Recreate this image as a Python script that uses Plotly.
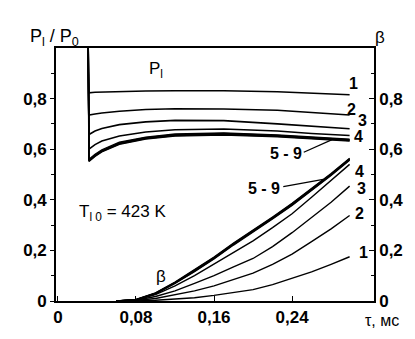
import plotly.graph_objects as go

# Relative pressure P_l / P_0 versus time tau (ms), curves 1-9
TAU_P = [0.031, 0.0318, 0.038, 0.045, 0.063, 0.09, 0.12, 0.17, 0.225, 0.26, 0.299]
P1 = [1.0, 0.823, 0.825, 0.826, 0.828, 0.830, 0.831, 0.831, 0.827, 0.822, 0.815]
P2 = [1.0, 0.735, 0.739, 0.743, 0.750, 0.757, 0.760, 0.759, 0.754, 0.745, 0.735]
P3 = [1.0, 0.658, 0.672, 0.682, 0.697, 0.708, 0.714, 0.713, 0.700, 0.690, 0.681]
P4 = [1.0, 0.600, 0.618, 0.632, 0.652, 0.668, 0.677, 0.680, 0.672, 0.662, 0.654]
P5 = [1.0, 0.560, 0.580, 0.598, 0.628, 0.648, 0.660, 0.664, 0.657, 0.648, 0.640]
P6 = [1.0, 0.557, 0.577, 0.595, 0.625, 0.646, 0.658, 0.662, 0.655, 0.646, 0.638]
P7 = [1.0, 0.555, 0.575, 0.593, 0.623, 0.644, 0.656, 0.660, 0.653, 0.644, 0.636]
P8 = [1.0, 0.553, 0.573, 0.591, 0.621, 0.642, 0.654, 0.658, 0.651, 0.642, 0.634]
P9 = [1.0, 0.551, 0.571, 0.589, 0.619, 0.640, 0.652, 0.656, 0.649, 0.640, 0.632]

# Burned fraction beta versus tau, curves 1-9
TAU_B = [0.06, 0.08, 0.10, 0.12, 0.14, 0.16, 0.18, 0.20, 0.22, 0.24, 0.26, 0.28, 0.299]
B1 = [0.0, 0.0, 0.003, 0.007, 0.013, 0.022, 0.032, 0.045, 0.065, 0.090, 0.115, 0.145, 0.175]
B2 = [0.0, 0.002, 0.010, 0.025, 0.040, 0.060, 0.085, 0.110, 0.145, 0.185, 0.235, 0.285, 0.338]
B3 = [0.0, 0.003, 0.018, 0.040, 0.070, 0.100, 0.135, 0.168, 0.215, 0.270, 0.330, 0.390, 0.454]
B4 = [0.0, 0.004, 0.025, 0.060, 0.100, 0.145, 0.190, 0.238, 0.290, 0.345, 0.410, 0.475, 0.540]
B5 = [0.0, 0.006, 0.032, 0.075, 0.124, 0.174, 0.229, 0.279, 0.332, 0.386, 0.444, 0.504, 0.564]
B6 = [0.0, 0.005, 0.031, 0.073, 0.122, 0.172, 0.227, 0.277, 0.330, 0.384, 0.442, 0.502, 0.562]
B7 = [0.0, 0.005, 0.030, 0.072, 0.120, 0.170, 0.225, 0.275, 0.328, 0.382, 0.440, 0.500, 0.560]
B8 = [0.0, 0.004, 0.029, 0.070, 0.118, 0.168, 0.223, 0.273, 0.326, 0.380, 0.438, 0.498, 0.558]
B9 = [0.0, 0.004, 0.028, 0.069, 0.116, 0.166, 0.221, 0.271, 0.324, 0.378, 0.436, 0.496, 0.556]

P_CURVES = [P1, P2, P3, P4, P5, P6, P7, P8, P9]
B_CURVES = [B1, B2, B3, B4, B5, B6, B7, B8, B9]

Y_TICKS = [0, 0.2, 0.4, 0.6, 0.8]
Y_TICK_TEXT = ["0", "0,2", "0,4", "0,6", "0,8"]
X_TICKS = [0, 0.08, 0.16, 0.24]
X_TICK_TEXT = ["0", "0,08", "0,16", "0,24"]

FONT = "Liberation Sans, Arial, sans-serif"
INK = "black"

fig = go.Figure()
for i, ys in enumerate(P_CURVES):
    fig.add_trace(go.Scatter(x=TAU_P, y=ys, mode="lines",
                             line=dict(color=INK, width=1.6 if i < 4 else 1.3),
                             showlegend=False, hoverinfo="skip", yaxis="y"))
for i, ys in enumerate(B_CURVES):
    fig.add_trace(go.Scatter(x=TAU_B, y=ys, mode="lines",
                             line=dict(color=INK, width=1.4 if i < 4 else 1.3),
                             showlegend=False, hoverinfo="skip", yaxis="y2"))

tick_font = dict(family=FONT, size=17, color=INK, weight="bold")

fig.update_layout(
    width=415, height=339,
    margin=dict(l=56, r=37, t=48, b=31),
    paper_bgcolor="white", plot_bgcolor="white",
    xaxis=dict(range=[-0.002, 0.324], showgrid=False, zeroline=False,
               showline=True, linecolor=INK, linewidth=1.6, mirror=True,
               tickmode="array", tickvals=X_TICKS, ticktext=X_TICK_TEXT,
               ticks="inside", ticklen=5, tickwidth=1.3, tickcolor=INK,
               tickfont=tick_font),
    yaxis=dict(range=[0, 1.0], showgrid=False, zeroline=False,
               showline=True, linecolor=INK, linewidth=1.6, mirror=True,
               tickmode="array", tickvals=Y_TICKS, ticktext=Y_TICK_TEXT,
               ticks="outside", ticklen=4, tickwidth=1.3, tickcolor=INK,
               minor=dict(tickmode="array", tickvals=[0.1, 0.3, 0.5, 0.7, 0.9],
                          ticks="outside", ticklen=3, tickwidth=1.2, tickcolor=INK),
               tickfont=tick_font),
    yaxis2=dict(range=[0, 1.0], overlaying="y", side="right", showgrid=False,
                zeroline=False, showline=True, linecolor=INK, linewidth=1.6,
                tickmode="array", tickvals=Y_TICKS, ticktext=Y_TICK_TEXT,
                ticks="inside", ticklen=5, tickwidth=1.3, tickcolor=INK,
                minor=dict(tickmode="array", tickvals=[0.1, 0.3, 0.5, 0.7, 0.9],
                           ticks="inside", ticklen=3, tickwidth=1.2, tickcolor=INK),
                tickfont=tick_font),
)

def label(text, x, y, size=16, bold=True, xanchor="center", ref="data"):
    xref, yref = ("x", "y") if ref == "data" else ("paper", "paper")
    fig.add_annotation(text=text, x=x, y=y, xref=xref, yref=yref, showarrow=False,
                       xanchor=xanchor, yanchor="middle",
                       font=dict(family=FONT, size=size, color=INK,
                                 weight="bold" if bold else "normal"))

# axis titles, placed just outside the plotting area
label("P<sub>l</sub> / P<sub>0</sub>", -0.005, 1.04, size=18, bold=False, ref="paper")
label("β", 1.02, 1.04, size=17, bold=False, ref="paper")
label("τ, мс", 1.025, -0.078, size=16, bold=False, ref="paper")

# pressure curve numbers
label("P<sub>l</sub>", 0.101, 0.915, size=17, bold=False)
label("1", 0.303, 0.86)
label("2", 0.301, 0.756)
label("3", 0.312, 0.712)
label("4", 0.308, 0.652)
label("5 - 9", 0.234, 0.585)
fig.add_shape(type="line", x0=0.252, y0=0.588, x1=0.281, y1=0.638,
              xref="x", yref="y", line=dict(color=INK, width=1.2))

# beta curve numbers
label("4", 0.309, 0.512)
label("3", 0.311, 0.446)
label("2", 0.309, 0.346)
label("1", 0.313, 0.19)
label("5 - 9", 0.211, 0.446)
fig.add_shape(type="line", x0=0.231, y0=0.452, x1=0.272, y1=0.481,
              xref="x", yref="y", line=dict(color=INK, width=1.2))
label("β", 0.106, 0.096, size=17, bold=False)

label("T<sub>l 0</sub> = 423 K", 0.02, 0.346, size=17, bold=False, xanchor="left")

fig.write_html("out.html")
